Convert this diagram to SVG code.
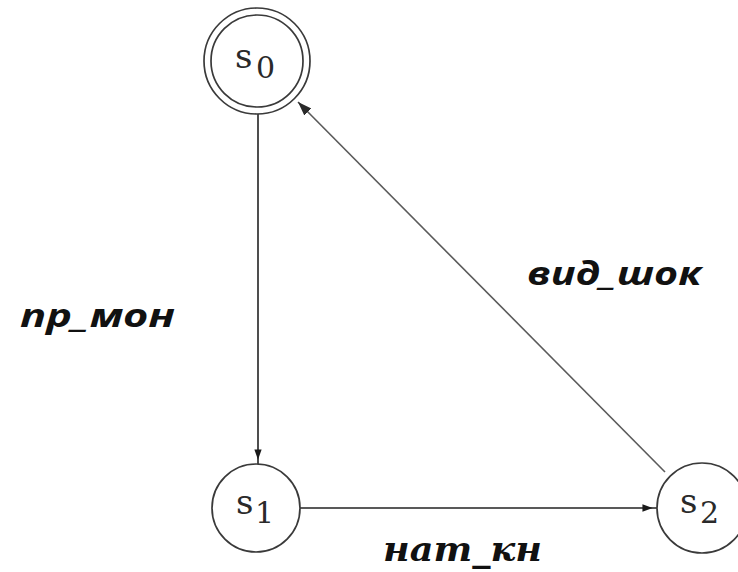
<svg xmlns="http://www.w3.org/2000/svg" width="738" height="572" viewBox="0 0 738 572">
<style>
.st{fill:none;stroke:#3a3a3a;stroke-width:1.7}
.sl{font-family:"DejaVu Serif","Liberation Serif",serif;fill:#2a2a2a}
.lab{font-family:"Open Sans","Noto Sans",sans-serif;font-weight:bold;font-style:italic;font-size:32px;fill:#111}
.lab2{font-family:"DejaVu Serif","Liberation Serif",serif;font-weight:bold;font-style:italic;font-size:34px;fill:#111}
.e{fill:none;stroke:#222;stroke-width:1.6}
.e2{fill:none;stroke:#5a5a5a;stroke-width:1.6}
</style>
<defs>
<marker id="ah" markerUnits="userSpaceOnUse" markerWidth="16" markerHeight="12" refX="20" refY="5" orient="auto" viewBox="0 0 22 10">
<path d="M0,0 L14,5 L0,10 Z" fill="#1a1a1a"/>
</marker>
<marker id="ah2" markerUnits="userSpaceOnUse" markerWidth="16" markerHeight="12" refX="14" refY="5" orient="auto" viewBox="0 0 16 10">
<path d="M0,0 L14,5 L0,10 Z" fill="#2a2a2a"/>
</marker>
</defs>
<rect width="738" height="572" fill="#fff"/>
<g id="connectors">
<line class="e" x1="258" y1="114" x2="258" y2="464" marker-end="url(#ah)"/>
<line class="e" x1="300" y1="508" x2="657" y2="508" marker-end="url(#ah)"/>
<line class="e2" x1="665" y1="472" x2="298" y2="102" marker-end="url(#ah2)"/>
</g>
<g id="s0">
<circle class="st" cx="257" cy="61" r="53"/>
<circle class="st" cx="257" cy="61" r="46"/>
<text class="sl" x="235" y="68" font-size="34">s</text>
<text class="sl" x="256" y="78" font-size="30">0</text>
</g>
<g id="s1">
<circle class="st" cx="256" cy="508" r="44"/>
<text class="sl" x="236" y="514" font-size="34">s</text>
<text class="sl" x="255" y="523" font-size="30">1</text>
</g>
<g id="s2">
<circle class="st" cx="702" cy="508" r="45"/>
<text class="sl" x="680" y="513" font-size="34">s</text>
<text class="sl" x="700" y="523" font-size="30">2</text>
</g>
<g id="labels">
<text class="lab" x="20" y="327" textLength="155" lengthAdjust="spacingAndGlyphs">пр_мон</text>
<text class="lab" x="527" y="285" textLength="175" lengthAdjust="spacingAndGlyphs">вид_шок</text>
<text class="lab2" x="383" y="561" textLength="159" lengthAdjust="spacingAndGlyphs">нат_кн</text>
</g>
</svg>
